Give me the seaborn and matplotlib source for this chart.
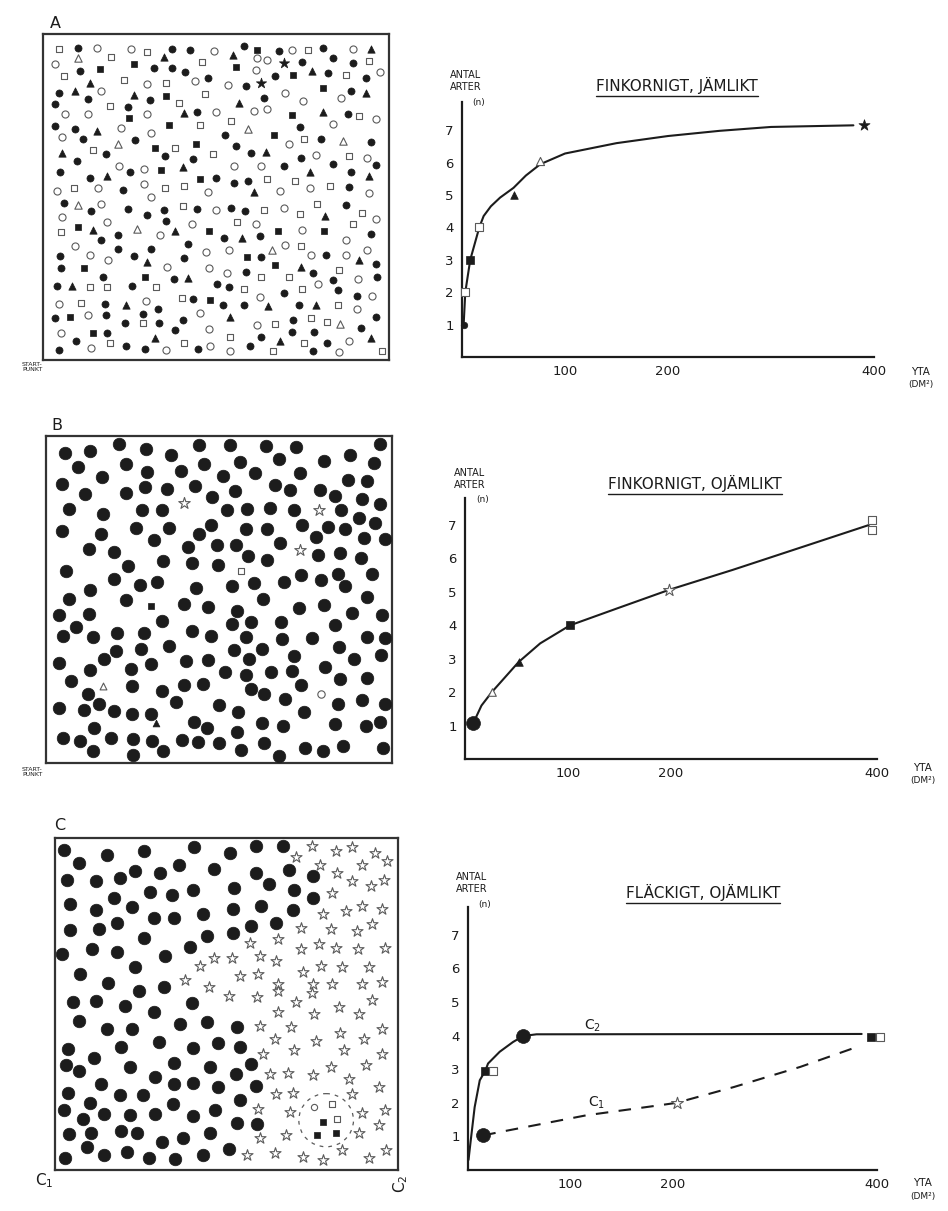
import matplotlib
matplotlib.use("Agg")
import matplotlib.pyplot as plt
from matplotlib.lines import Line2D
from matplotlib.patches import Ellipse
import pandas as pd
import seaborn as sns

# ---- field maps (positions, y downwards) ----
# A: fine grained, even (7 species)
a_fc = [(168,72),(455,75),(510,78),(675,68),(780,82),(915,72),(400,135),(455,135),(852,115),(945,105),(1005,120),(175,142),(495,145),(930,150),(1045,165),(565,165),(768,158),(110,210),(680,190),(1000,205),(98,245),(200,230),(320,255),(388,232),(530,268),(735,225),(990,275),(98,312),(160,322),(845,315),(183,352),(342,355),(617,340),(910,350),(1062,362),(650,372),(255,397),(433,403),(695,393),(848,410),(518,413),(165,420),(327,452),(795,435),(945,428),(1075,432),(1000,453),(115,452),(205,470),(590,470),(645,487),(688,479),(305,507),(995,497),(125,547),(208,572),(320,567),(378,583),(430,568),(530,567),(635,562),(678,573),(985,553),(290,646),(438,602),(612,656),(722,648),(1060,642),(240,660),(290,687),(390,687),(505,672),(115,709),(338,710),(493,716),(725,712),(925,708),(118,747),(680,758),(885,762),(1075,734),(245,774),(460,779),(945,783),(1080,774),(105,800),(332,800),(593,796),(630,806),(795,823),(960,813),(250,856),(518,841),(610,859),(673,859),(842,859),(1020,831),(98,899),(255,889),(367,886),(413,871),(487,906),(825,906),(1030,929),(1075,896),(313,916),(415,916),(258,944),(465,936),(820,941),(888,941),(162,971),(725,959),(928,976),(315,986),(373,993),(533,993),(692,986),(885,999),(110,998)]
a_oc = [(225,72),(330,75),(583,82),(820,80),(1005,75),(100,122),(715,105),(745,110),(710,140),(1090,145),(525,175),(238,205),(378,182),(625,185),(800,210),(855,235),(970,225),(130,275),(200,275),(380,275),(590,268),(705,265),(745,260),(1075,290),(300,318),(945,305),(390,333),(120,345),(810,367),(895,400),(1048,410),(295,433),(370,442),(645,435),(725,433),(370,488),(105,510),(230,500),(390,530),(565,515),(785,512),(875,500),(1055,517),(240,550),(590,570),(795,562),(1075,597),(120,590),(258,605),(515,612),(418,646),(712,612),(850,630),(158,680),(560,697),(630,692),(800,677),(985,660),(205,706),(260,722),(440,742),(877,708),(985,708),(1048,692),(567,747),(622,763),(1022,780),(722,834),(900,796),(110,856),(375,846),(1063,833),(1020,871),(200,891),(540,884),(713,921),(118,946),(568,933),(993,971),(208,991),(437,996),(570,986),(633,999),(965,1004)]
a_os = [(110,75),(380,85),(870,78),(270,100),(545,115),(1055,112),(125,160),(985,155),(310,170),(437,180),(555,213),(265,250),(475,242),(1025,280),(635,295),(540,310),(858,350),(213,385),(465,380),(580,397),(995,403),(745,475),(830,480),(155,500),(435,502),(493,495),(935,495),(487,558),(735,568),(898,550),(845,582),(1035,578),(118,636),(652,607),(1005,612),(848,680),(965,753),(725,774),(812,774),(205,803),(258,806),(405,806),(675,811),(852,811),(178,853),(485,839),(962,861),(368,916),(878,899),(928,911),(768,919),(632,959),(857,976),(265,976),(490,976),(762,999),(1095,999)]
a_fs = [(713,78),(338,122),(235,138),(650,130),(825,155),(915,195),(437,220),(325,287),(822,278),(445,310),(765,340),(528,367),(402,380),(420,445),(540,475),(170,622),(568,632),(778,633),(918,634),(683,712),(188,747),(768,736),(372,773),(570,843),(143,896),(213,946)]
a_ft = [(640,95),(1060,75),(432,100),(880,142),(205,180),(160,205),(1045,212),(338,218),(490,272),(658,242),(915,268),(228,327),(120,395),(740,392),(488,438),(875,453),(258,466),(1055,465),(705,515),(922,587),(213,631),(465,633),(668,656),(378,727),(1025,722),(848,742),(505,776),(150,800),(315,861),(748,863),(895,859),(632,896),(403,961),(785,969),(1062,961)]
a_ot = [(170,105),(688,320),(290,367),(975,357),(170,552),(348,627),(760,690),(968,919)]
a_st = [(795,120),(725,180)]

# B: fine grained, uneven (one dominant species)
b_fc = [(137,65),(213,60),(300,40),(380,55),(455,72),(540,42),(632,42),(742,45),(830,48),(1083,40),(175,110),(320,100),(385,125),(487,120),(555,100),(662,93),(780,85),(915,90),(995,73),(1065,98),(248,140),(127,160),(378,170),(445,175),(528,167),(612,135),(708,128),(843,128),(988,148),(1045,152),(198,190),(320,188),(580,200),(648,182),(768,163),(812,178),(905,178),(948,198),(150,237),(250,250),(370,238),(430,240),(625,238),(685,237),(753,232),(825,240),(968,240),(1030,205),(1085,222),(1020,262),(128,302),(245,313),(352,293),(450,295),(540,313),(575,283),(682,297),(745,298),(850,283),(893,320),(928,292),(978,298),(1068,278),(1100,328),(1037,325),(405,330),(595,345),(652,345),(782,340),(210,358),(285,365),(508,352),(688,377),(743,390),(898,375),(965,368),(1028,385),(325,410),(433,393),(518,398),(598,405),(140,425),(845,437),(908,452),(958,432),(1060,432),(285,447),(362,467),(415,458),(530,475),(640,468),(705,460),(795,457),(980,470),(212,482),(148,507),(320,510),(733,507),(1045,502),(495,525),(568,532),(655,545),(840,535),(915,527),(1000,552),(118,558),(210,555),(1090,557),(170,592),(430,575),(638,585),(697,578),(785,578),(950,587),(130,620),(222,625),(293,610),(375,612),(518,605),(575,622),(680,625),(790,630),(880,628),(1045,625),(1100,628),(290,665),(365,660),(450,652),(645,662),(730,660),(960,655),(1088,678),(120,702),(253,690),(395,705),(500,697),(567,692),(690,690),(825,682),(1005,690),(213,722),(335,720),(618,730),(755,730),(818,727),(918,715),(682,740),(155,758),(338,772),(495,768),(553,765),(697,780),(735,797),(845,768),(965,750),(1045,748),(205,795),(430,788),(798,812),(118,837),(195,845),(238,825),(285,848),(338,858),(395,858),(470,820),(600,830),(657,852),(855,850),(958,825),(1030,815),(1100,825),(225,900),(525,880),(563,900),(730,885),(793,893),(950,888),(1043,893),(1085,882),(655,912),(130,930),(183,938),(275,928),(340,932),(398,937),(488,935),(537,940),(600,945),(735,945),(973,953),(1093,960),(222,968),(340,982),(432,968),(667,965),(780,983),(858,960),(912,970)]
b_star = [(495,218),(900,238),(842,360)]
b_os = [(665,425)]
b_fs = [(395,530)]
b_ot = [(250,772)]
b_ft = [(412,885)]
b_oc = [(908,797)]

# C: patchy, uneven
c_fc = [(100,85),(228,100),(340,88),(493,78),(600,95),(678,75),(760,75),(145,125),(315,150),(388,155),(447,130),(553,142),(678,155),(780,145),(850,165),(108,178),(197,180),(268,170),(718,190),(795,208),(852,230),(118,248),(250,230),(360,213),(425,223),(488,208),(612,200),(695,255),(195,268),(305,257),(610,265),(520,280),(790,268),(118,327),(205,325),(260,305),(370,290),(430,292),(665,315),(740,305),(340,352),(530,345),(610,337),(93,400),(183,385),(260,392),(480,378),(405,405),(315,440),(148,460),(232,487),(325,510),(400,498),(125,545),(195,542),(282,557),(370,575),(485,548),(143,602),(230,625),(305,625),(450,610),(530,605),(622,620),(110,685),(190,713),(272,680),(385,665),(488,683),(565,668),(630,680),(105,735),(145,752),(300,740),(430,727),(540,740),(665,732),(210,790),(375,770),(430,790),(490,788),(565,800),(618,762),(680,798),(110,818),(178,848),(268,825),(338,825),(428,850),(630,838),(98,868),(158,895),(220,880),(298,885),(375,882),(488,888),(555,870),(113,942),(180,938),(270,933),(320,940),(395,965),(460,955),(540,940),(623,908),(683,912),(103,1013),(170,980),(220,1005),(290,995),(355,1015),(435,1017),(518,1005),(598,988)]
c_star = [(848,75),(920,88),(970,78),(1040,95),(800,108),(872,130),(1000,130),(1075,120),(925,155),(970,180),(1027,195),(1065,175),(910,215),(882,280),(950,270),(1000,255),(1060,265),(815,320),(905,325),(985,330),(1030,310),(660,365),(745,355),(815,385),(870,370),(920,380),(988,385),(1070,380),(510,435),(553,410),(608,410),(692,405),(740,420),(822,455),(875,435),(940,440),(1020,440),(465,478),(630,465),(685,460),(538,498),(745,490),(850,490),(910,490),(1000,490),(1060,485),(598,525),(682,528),(745,510),(800,545),(848,518),(930,560),(1030,537),(745,575),(855,580),(990,580),(692,615),(785,620),(932,637),(1060,625),(735,655),(860,660),(1005,655),(700,700),(795,690),(945,690),(1060,700),(905,740),(1010,735),(720,760),(775,758),(850,765),(960,775),(740,820),(790,818),(970,820),(1050,800),(685,865),(782,875),(1000,878),(1070,868),(770,945),(990,940),(1050,915),(690,955),(940,990),(1072,990),(653,1005),(735,1000),(820,1010),(880,1020),(1020,1015)]
c_oc = [(855,860)]
c_os = [(908,850),(925,895)]
c_fs = [(880,905),(862,945),(922,940)]
c_patch = (891, 900)  # centre of the small mixed patch (dashed ring)

# ---- species-area curves: area (dm2) vs number of species ----
a_curve_x = [1.6, 3.2, 8, 16.8, 21, 28, 37, 50, 62, 76, 100, 150, 200, 250, 300, 380]
a_curve_y = [1.0, 2.0, 3.0, 4.0, 4.35, 4.65, 4.92, 5.22, 5.6, 5.95, 6.28, 6.6, 6.82, 6.98, 7.1, 7.15]
a_pts_x = [1.6, 3.2, 8, 16.8, 50, 76, 390]
a_pts_y = [1.0, 2.0, 3.0, 4.0, 5.0, 6.05, 7.15]
a_pts_kind = ["fc", "os", "fs", "os", "ft", "ot", "st"]

b_curve_x = [8, 16, 26, 52, 73, 102, 148, 198, 260, 330, 392]
b_curve_y = [1.07, 1.6, 2.0, 2.9, 3.46, 4.0, 4.51, 5.06, 5.66, 6.37, 7.0]
b_pts_x = [8, 26, 52, 102, 198, 395, 395]
b_pts_y = [1.07, 2.0, 2.9, 4.0, 5.06, 7.15, 6.84]
b_pts_kind = ["bc", "ot", "ft", "fs", "os_star", "os", "os"]

c2_curve_x = [0.5, 2.3, 6.5, 11.5, 17, 19.6, 31, 44, 54, 67, 385]
c2_curve_y = [0.3, 0.78, 1.87, 2.67, 2.96, 3.17, 3.52, 3.81, 3.99, 4.04, 4.05]
c1_curve_x = [15, 31, 116, 188, 204, 260, 325, 381]
c1_curve_y = [1.03, 1.13, 1.63, 1.93, 2.0, 2.47, 3.07, 3.67]
c_pts_x = [15, 17, 24, 54, 394, 403, 204]
c_pts_y = [1.03, 2.96, 2.96, 3.99, 3.96, 3.96, 2.0]
c_pts_kind = ["bc", "fs", "os", "bc", "fs", "os", "os_star"]

x_ticks = [100, 200, 400]
y_ticks = [1, 2, 3, 4, 5, 6, 7]

W, H = 948, 1211
INK = "#1c1c1c"
GREY = "#5a5a5a"

sns.set_style("white")
plt.rcParams["font.family"] = ["DejaVu Sans"]

fig = plt.figure(figsize=(W / 100, H / 100), dpi=100)
fig.patch.set_facecolor("white")


def box(x0, y0, x1, y1):
    return [x0 / W, 1 - y1 / H, (x1 - x0) / W, (y1 - y0) / H]


def fx(x, y):
    return x / W, 1 - y / H


MARK = {
    "fc": dict(marker="o", facecolor=INK, edgecolor=INK, linewidth=0.5),
    "bc": dict(marker="o", facecolor=INK, edgecolor=INK, linewidth=0.5),
    "oc": dict(marker="o", facecolor="white", edgecolor=GREY, linewidth=0.8),
    "os": dict(marker="s", facecolor="white", edgecolor=GREY, linewidth=0.8),
    "fs": dict(marker="s", facecolor=INK, edgecolor=INK, linewidth=0.5),
    "ft": dict(marker="^", facecolor=INK, edgecolor=INK, linewidth=0.5),
    "ot": dict(marker="^", facecolor="white", edgecolor=GREY, linewidth=0.8),
    "st": dict(marker="*", facecolor=INK, edgecolor=INK, linewidth=0.5),
    "os_star": dict(marker="*", facecolor="white", edgecolor=GREY, linewidth=0.8),
}


def scatter(ax, pts, kind, s):
    df = pd.DataFrame(pts, columns=["x", "y"])
    sns.scatterplot(data=df, x="x", y="y", ax=ax, s=s, color=INK,
                    legend=False, clip_on=False, zorder=3, **MARK[kind])


def field(rect, xlim, ylim):
    ax = fig.add_axes(rect)
    ax.set_xlim(*xlim)
    ax.set_ylim(*ylim)
    ax.set_xticks([])
    ax.set_yticks([])
    for sp in ax.spines.values():
        sp.set_visible(True)
        sp.set_linewidth(1.6)
        sp.set_color("#333333")
    return ax


def unlabel(ax):
    ax.set_xlabel("")
    ax.set_ylabel("")


# ---- field A ----
ax = field(box(43, 34, 389, 360), (62, 1116), (1028, 30))
scatter(ax, a_fc, "fc", 26)
scatter(ax, a_oc, "oc", 26)
scatter(ax, a_os, "os", 20)
scatter(ax, a_fs, "fs", 20)
scatter(ax, a_ft, "ft", 28)
scatter(ax, a_ot, "ot", 28)
scatter(ax, a_st, "st", 60)
unlabel(ax)

# ---- field B ----
ax = field(box(46, 436, 392, 763), (80, 1120), (1005, 15))
scatter(ax, b_fc, "fc", 82)
scatter(ax, b_star, "os_star", 75)
scatter(ax, b_os, "os", 22)
scatter(ax, b_fs, "fs", 18)
scatter(ax, b_ot, "ot", 24)
scatter(ax, b_ft, "ft", 24)
scatter(ax, b_oc, "oc", 28)
unlabel(ax)

# ---- field C ----
ax = field(box(55, 838, 398, 1170), (72, 1108), (1050, 50))
scatter(ax, c_fc, "fc", 82)
scatter(ax, c_star, "os_star", 70)
scatter(ax, c_oc, "oc", 20)
scatter(ax, c_os, "os", 18)
scatter(ax, c_fs, "fs", 16)
ax.add_patch(Ellipse(c_patch, 165, 160, fill=False, ls=(0, (3, 4)),
                     lw=0.9, ec=GREY))
unlabel(ax)


# ---- species-area graphs ----
def graph(rect, ytop):
    ax = fig.add_axes(rect)
    ax.set_xlim(0, 400)
    ax.set_ylim(0, ytop)
    sns.despine(ax=ax)
    for side in ("left", "bottom"):
        ax.spines[side].set_linewidth(1.6)
        ax.spines[side].set_color(INK)
    ax.set_xticks(x_ticks)
    ax.set_yticks(y_ticks)
    ax.tick_params(direction="inout", length=6, width=1.1, colors=INK,
                   labelsize=9.5, pad=3)
    return ax


def pts(ax, xs, ys, kinds, sizes):
    for x, y, k in zip(xs, ys, kinds):
        scatter(ax, [(x, y)], k, sizes[k])


ax = graph(box(462, 102, 874, 357), 7.87)
sns.lineplot(x=a_curve_x, y=a_curve_y, ax=ax, color=INK, lw=1.5)
pts(ax, a_pts_x, a_pts_y, a_pts_kind,
    {"fc": 22, "os": 32, "fs": 26, "ft": 30, "ot": 34, "st": 70})
unlabel(ax)

ax = graph(box(465, 498, 877, 759), 7.81)
sns.lineplot(x=b_curve_x, y=b_curve_y, ax=ax, color=INK, lw=1.5)
pts(ax, b_pts_x, b_pts_y, b_pts_kind,
    {"bc": 100, "ot": 30, "ft": 30, "fs": 26, "os_star": 80, "os": 30})
unlabel(ax)

ax = graph(box(468, 907, 877, 1170), 7.83)
sns.lineplot(x=c2_curve_x, y=c2_curve_y, ax=ax, color=INK, lw=1.5)
sns.lineplot(x=c1_curve_x, y=c1_curve_y, ax=ax, color=INK, lw=1.5,
             linestyle=(0, (6, 5)))
pts(ax, c_pts_x, c_pts_y, c_pts_kind,
    {"bc": 100, "fs": 28, "os": 30, "os_star": 80})
unlabel(ax)

# ---- lettering ----
T = dict(color=INK, ha="center", va="center")
for lab, (x, y) in zip("ABC", [(55, 24), (57, 426), (60, 826)]):
    fig.text(*fx(x, y), lab, fontsize=11.5, **T)
for y in (367, 772):
    fig.text(*fx(22, y), "START-\nPUNKT", fontsize=4.5, color=INK,
             ha="left", va="center", linespacing=1.1)
fig.text(*fx(44, 1181), "C$_1$", fontsize=11, **T)
fig.text(*fx(401, 1184), "C$_2$", fontsize=11, rotation=90, **T)

titles = [("FINKORNIGT, JÄMLIKT", (677, 85)),
          ("FINKORNIGT, OJÄMLIKT", (695, 483)),
          ("FLÄCKIGT, OJÄMLIKT", (703, 892))]
title_artists = [fig.text(*fx(x, y), t, fontsize=11, **T) for t, (x, y) in titles]

for x0, y0 in [(466, 75), (470, 473), (472, 877)]:
    fig.text(*fx(x0, y0), "ANTAL", fontsize=7, **T)
    fig.text(*fx(x0, y0 + 12), "ARTER", fontsize=7, **T)
    fig.text(*fx(x0 + 13, y0 + 27), "(n)", fontsize=6.5, **T)

for x0, y0 in [(920, 372), (922, 768), (922, 1183)]:
    fig.text(*fx(x0, y0), "YTA", fontsize=7.5, **T)
    fig.text(*fx(x0 + 1, y0 + 13), "(DM²)", fontsize=6.5, **T)

fig.text(*fx(593, 1026), "C$_2$", fontsize=10, **T)
fig.text(*fx(597, 1103), "C$_1$", fontsize=10, **T)

# underline the titles
fig.canvas.draw()
r = fig.canvas.get_renderer()
for t in title_artists:
    bb = t.get_window_extent(r).transformed(fig.transFigure.inverted())
    fig.add_artist(Line2D([bb.x0, bb.x1], [bb.y0 - 0.002, bb.y0 - 0.002],
                          transform=fig.transFigure, color=INK, lw=1.0))

fig.savefig("out.png", dpi=100, facecolor="white")
